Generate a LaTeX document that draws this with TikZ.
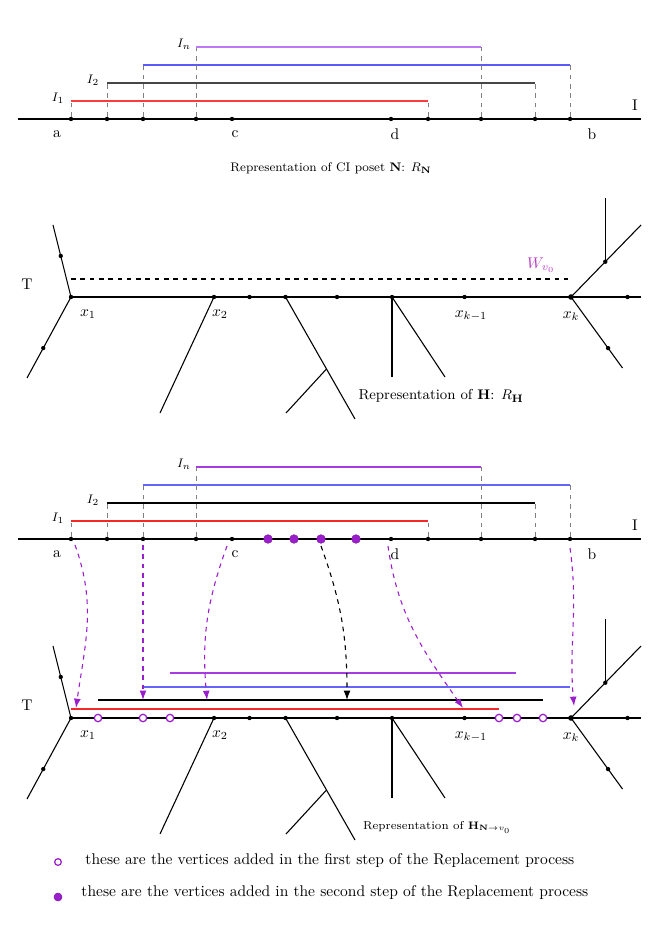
\documentclass[tikz,border=0pt]{standalone}
\usepackage{amsmath, amssymb}
\usepackage{tikz}
\usetikzlibrary{positioning,arrows,arrows.meta,calc}
\definecolor{ivu1}{RGB}{250,60,60}
\definecolor{ivu2}{RGB}{70,70,70}
\definecolor{ivu3}{RGB}{90,90,250}
\definecolor{ivu4}{RGB}{190,120,245}
\definecolor{ivl1}{RGB}{245,40,40}
\definecolor{ivl2}{RGB}{0,0,0}
\definecolor{ivl3}{RGB}{100,100,250}
\definecolor{ivl4}{RGB}{165,60,225}
\definecolor{addcol}{RGB}{155,30,205}
\definecolor{wcol}{RGB}{185,60,195}
\tikzset{
    vtx/.style = {
        shape=circle,
        fill=black,
        inner sep=0pt,
        minimum size=2.8pt
    },
    newvtx/.style = {
        shape=circle,
        draw=addcol,
        fill=white,
        line width=0.8pt,
        inner sep=0pt,
        minimum size=4.8pt
    },
    secvtx/.style = {
        shape=circle,
        fill=addcol,
        draw=addcol!80!black,
        line width=0.3pt,
        inner sep=0pt,
        minimum size=5.6pt
    },
    guide/.style = {
        draw,
        dashed,
        gray,
        line width=0.4pt
    },
    ival/.style = {
        draw,
        line width=0.9pt
    },
    edge/.style = {
        draw,
        line width=0.7pt
    },
    mapto/.style = {
        draw,
        dashed,
        addcol,
        line width=0.7pt,
        ->
    },
    >={Latex[length=6pt, width=4.4pt]},
}

\begin{document}
\begin{tikzpicture}[x=0.645pt, y=-0.645pt]
    \useasboundingbox (0,0) rectangle (663,942);

    % the interval line I, drawn twice
    \foreach \k/\dy in {u/0, l/420} {
        \coordinate (\k L) at (18,119+\dy);
        \coordinate (\k R) at (641,119+\dy);
        \path[edge] (\k L) -- (\k R);
        \foreach \n/\x in {a1/71, a2/107, a3/143, a4/196, c/232, d/391, b1/428, b4/481, b2/535, b3/570}
            \node[vtx] (\k\n) at (\x,119+\dy) {};
        \foreach \i/\xa/\xb/\h in {1/71/428/101, 2/107/535/83, 3/143/570/65, 4/196/481/47} {
            \coordinate (\k s\i) at (\xa,\h+\dy);
            \coordinate (\k e\i) at (\xb,\h+\dy);
            \path[guide] (\k a\i) -- (\k s\i);
            \path[guide] (\k b\i) -- (\k e\i);
            \path[ival, iv\k\i] (\k s\i) -- (\k e\i);
        }
        \node (\k la) at (57,134+\dy) {a};
        \node (\k lc) at (235,134+\dy) {c};
        \node (\k ld) at (395,134+\dy) {d};
        \node (\k lb) at (592,134+\dy) {b};
        \node (\k lI) at (635,105+\dy) {I};
        \node[font=\footnotesize] (\k I1) at (58,98+\dy) {$I_1$};
        \node[font=\footnotesize] (\k I2) at (93,80+\dy) {$I_2$};
        \node[font=\footnotesize] (\k In) at (184,44+\dy) {$I_n$};
    }
    \node[font=\footnotesize] (capN) at (331,168) {Representation of CI poset $\mathbf{N}$: $R_{\mathbf{N}}$};

    % the tree T, drawn twice
    \foreach \k/\dy in {m/0, n/421} {
        \node[vtx] (\k x1) at (71,297+\dy) {};
        \node[vtx] (\k x2) at (214,297+\dy) {};
        \node[vtx] (\k v1) at (249.5,297+\dy) {};
        \node[vtx] (\k v2) at (285.5,297+\dy) {};
        \node[vtx] (\k v3) at (337,297+\dy) {};
        \node[vtx] (\k v4) at (392,297+\dy) {};
        \node[vtx] (\k xk1) at (464.5,297+\dy) {};
        \node[vtx, minimum size=3.6pt] (\k xk) at (571,297+\dy) {};
        \node[vtx] (\k v5) at (627.5,297+\dy) {};
        \coordinate (\k E) at (641,297+\dy);
        \path[edge] (\k x1.center) -- (\k E);

        \coordinate (\k u0) at (53,225+\dy);
        \coordinate (\k w0) at (27,378+\dy);
        \coordinate (\k y0) at (160,413+\dy);
        \coordinate (\k z0) at (355,419+\dy);
        \coordinate (\k z2) at (286,413+\dy);
        \coordinate (\k r1) at (392,377+\dy);
        \coordinate (\k r2) at (445,377+\dy);
        \coordinate (\k s0) at (641,225+\dy);
        \coordinate (\k q0) at (622.5,368+\dy);
        \coordinate (\k z1) at ($(\k v2)!0.59!(\k z0)$);

        \path[edge] (\k x1.center) -- (\k u0);
        \path[edge] (\k x1.center) -- (\k w0);
        \path[edge] (\k x2.center) -- (\k y0);
        \path[edge] (\k v2.center) -- (\k z0);
        \path[edge] (\k z1) -- (\k z2);
        \path[edge] (\k v4.center) -- (\k r1);
        \path[edge] (\k v4.center) -- (\k r2);
        \path[edge] (\k xk.center) -- (\k s0);
        \path[edge] (\k xk.center) -- (\k q0);
        \node[vtx] (\k u1) at ($(\k x1)!0.57!(\k u0)$) {};
        \node[vtx] (\k w1) at ($(\k x1)!0.63!(\k w0)$) {};
        \node[vtx] (\k s1) at ($(\k xk)!0.49!(\k s0)$) {};
        \node[vtx] (\k q1) at ($(\k xk)!0.72!(\k q0)$) {};
        \coordinate (\k s2) at ($(\k s1)+(0,-64)$);
        \path[edge] (\k s1.center) -- (\k s2);

        \node (\k T) at (27,284+\dy) {T};
        \node (\k lx1) at (88,314+\dy) {$x_1$};
        \node (\k lx2) at (220,314+\dy) {$x_2$};
        \node (\k lxk1) at (471,316+\dy) {$x_{k-1}$};
        \node (\k lxk) at (571,316+\dy) {$x_k$};
    }

    % the walk W_{v_0}
    \coordinate (wa) at (71,279);
    \coordinate (wb) at (568,279);
    \path[draw, dashed, line width=0.9pt] (wa) -- (wb);
    \node[wcol] (wlab) at (541,265) {$W_{v_0}$};
    \node[font=\fontsize{9.3}{11}\selectfont] (capH) at (441,396) {Representation of $\mathbf{H}$: $R_{\mathbf{H}}$};

    % vertices added in the second step
    \foreach \n/\x in {f1/268, f2/294, f3/321, f4/356}
        \node[secvtx] (\n) at (\x,539) {};

    % the intervals laid on T
    \foreach \i/\xa/\xb/\h in {1/71/499/709, 2/98/543/700, 3/143/570/687, 4/170/516/673} {
        \coordinate (hs\i) at (\xa,\h);
        \coordinate (he\i) at (\xb,\h);
        \path[ival, ivl\i] (hs\i) -- (he\i);
    }

    % vertices added in the first step
    \foreach \n/\x in {e1/98, e2/143, e3/170, e4/499, e5/517, e6/543}
        \node[newvtx] (\n) at (\x,718) {};

    % the maps from I to T
    \coordinate (ma) at (75,545);
    \coordinate (mat) at (76,708);
    \coordinate (mb) at (143,545);
    \coordinate (mbt) at (143,700);
    \coordinate (mc) at (227,546);
    \coordinate (mct) at (207,700);
    \coordinate (md) at (321,546);
    \coordinate (mdt) at (347,700);
    \coordinate (me) at (388,546);
    \coordinate (met) at (463,708);
    \coordinate (mf) at (570,548);
    \coordinate (mft) at (574,706);
    \path[mapto] (ma) to[out=-70, in=82] (mat);
    \path[mapto] (mb) -- (mbt);
    \path[mapto] (mc) to[out=-110, in=95] (mct);
    \path[mapto, black] (md) to[out=-70, in=90] (mdt);
    \path[mapto] (me) to[out=-82, in=125] (met);
    \path[mapto] (mf) to[out=-82, in=95] (mft);

    \node[font=\fontsize{7.4}{9}\selectfont] (capHN) at (437,827) {Representation of $\mathbf{H}_{\mathbf{N}\to v_0}$};

    % legend
    \node[newvtx, minimum size=4.3pt] (key1) at (58,862) {};
    \node[secvtx, minimum size=5.2pt] (key2) at (58,897) {};
    \node[anchor=west] (txt1) at (80,861) {these are the vertices added in the first step of the Replacement process};
    \node[anchor=west] (txt2) at (76,893) {these are the vertices added in the second step of the Replacement process};
\end{tikzpicture}
\end{document}
